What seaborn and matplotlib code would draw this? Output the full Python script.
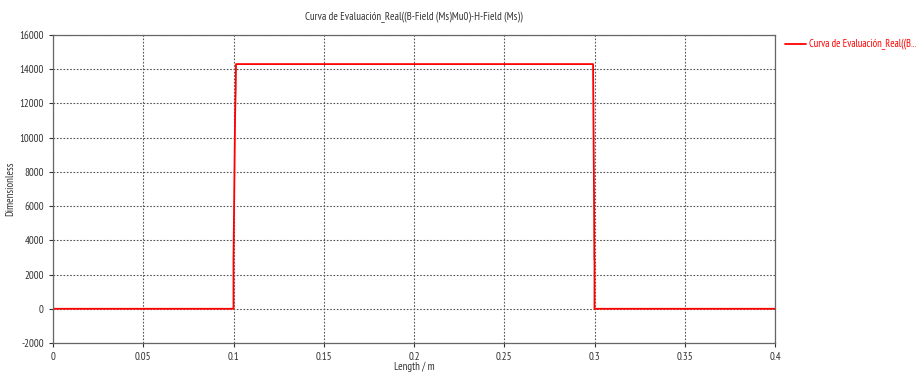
import matplotlib
matplotlib.use("Agg")
import matplotlib.pyplot as plt
import seaborn as sns
import pandas as pd

length_m = [0.0, 0.1, 0.1, 0.1003, 0.1006, 0.1009, 0.1012, 0.1014, 0.2992, 0.2994, 0.2996, 0.2998, 0.2999, 0.3, 0.3, 0.4]
values = [0, 0, 2900, 5700, 8600, 11400, 12800, 14300, 14300, 11400, 8600, 5700, 2900, 2900, 0, 0]
series_name = "Curva de Evaluación_Real((B-Field (Ms)Mu0)-H-Field (Ms))"
legend_label = "Curva de Evaluación_Real((B..."
x_ticks = [0, 0.05, 0.1, 0.15, 0.2, 0.25, 0.3, 0.35, 0.4]
x_tick_labels = ["0", "0.05", "0.1", "0.15", "0.2", "0.25", "0.3", "0.35", "0.4"]
y_ticks = [-2000, 0, 2000, 4000, 6000, 8000, 10000, 12000, 14000, 16000]

sns.set_style("white")
plt.rcParams['font.family'] = ['PT Sans Narrow', 'Archivo Narrow', 'Liberation Sans', 'DejaVu Sans']

df = pd.DataFrame({"x": length_m, "y": values})
fig = plt.figure(figsize=(9.21, 3.74), dpi=100)
ax = fig.add_axes([53/921, 1 - 343/374, (775-53)/921, (343-35)/374])

sns.lineplot(data=df, x="x", y="y", ax=ax, color="#ff0000", linewidth=1.3,
             sort=False, estimator=None, label=legend_label)

ax.set_xlim(0, 0.4)
ax.set_ylim(-2000, 16000)
ax.set_xticks(x_ticks)
ax.set_xticklabels(x_tick_labels)
ax.set_yticks(y_ticks)
ax.set_yticklabels([str(v) for v in y_ticks])
ax.tick_params(axis='both', labelsize=7.8, colors="#333333", length=3, width=0.8,
               direction='out', bottom=True, left=True)
ax.grid(True, linestyle=(0, (1.5, 1.5)), color="#555555", linewidth=0.8)
for s in ax.spines.values():
    s.set_color("#666666")
    s.set_linewidth(0.9)

ax.set_xlabel("Length / m", fontsize=7.8, color="#333333")
ax.xaxis.set_label_coords(0.5, -0.062)
ax.set_ylabel("Dimensionless", fontsize=7.8, color="#333333")
ax.yaxis.set_label_coords(-0.052, 0.5)
fig.text(414/921, 1 - 17/374, series_name, fontsize=7.8, color="#333333",
         ha="center", va="center")

leg = ax.legend(loc="upper left", bbox_to_anchor=(1.008, 1.0), frameon=False,
                fontsize=7.6, handlelength=2.0, handletextpad=0.3, borderaxespad=0)
for t in leg.get_texts():
    t.set_color("#ff0000")

fig.savefig("out.png", dpi=100)
